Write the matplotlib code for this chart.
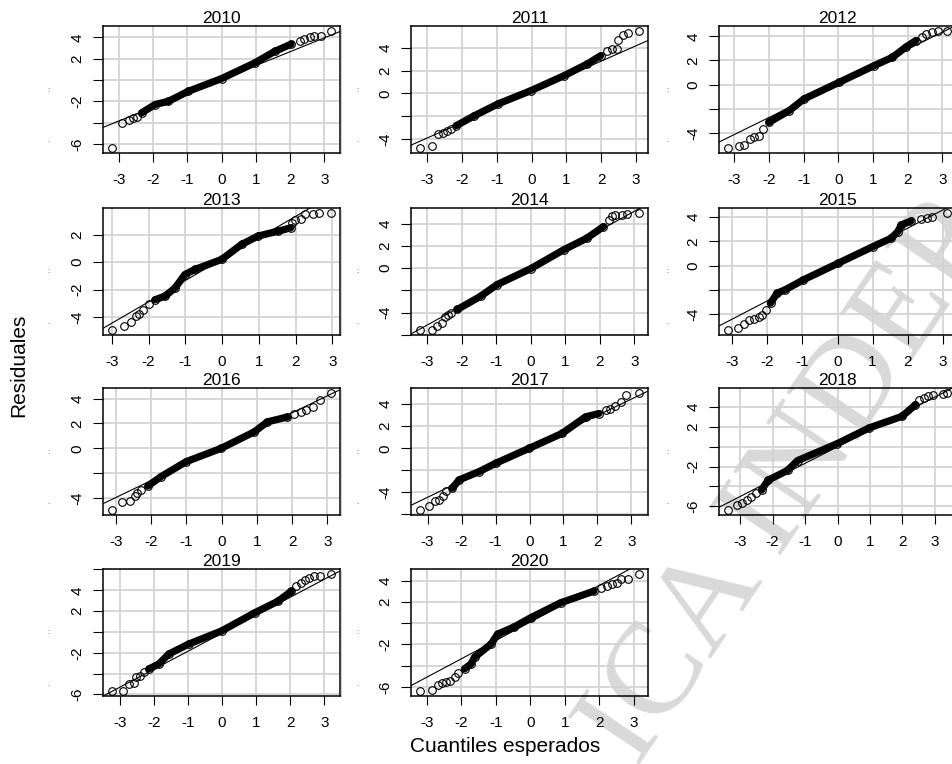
import matplotlib
matplotlib.use('Agg')
import matplotlib.pyplot as plt
from matplotlib.lines import Line2D
import numpy as np

plt.rcParams['font.family'] = ['Liberation Sans', 'DejaVu Sans']

anios = ['2010', '2011', '2012', '2013', '2014', '2015',
         '2016', '2017', '2018', '2019', '2020']

# cuantiles teoricos (q) y residuales ordenados (r)
q2010 = [-3.20, -2.89, -2.71, -2.57, -2.47, -2.33, -1.94, -1.55, -0.97, 0.00, 0.97, 1.55, 2.03, 2.28, 2.42, 2.57, 2.71, 2.89, 3.20]
r2010 = [-6.40, -4.02, -3.77, -3.60, -3.46, -3.08, -2.30, -2.00, -1.06, 0.13, 1.60, 2.68, 3.36, 3.68, 3.87, 3.99, 4.08, 4.15, 4.62]

q2011 = [-3.21, -2.86, -2.69, -2.54, -2.42, -2.31, -2.16, -1.64, -0.97, -0.02, 0.93, 1.60, 1.98, 2.17, 2.31, 2.44, 2.49, 2.63, 2.76, 3.09]
r2011 = [-4.82, -4.59, -3.56, -3.50, -3.27, -3.12, -2.83, -1.96, -0.93, 0.24, 1.55, 2.58, 3.30, 3.74, 3.86, 3.90, 4.68, 5.12, 5.30, 5.50]

q2012 = [-3.19, -2.88, -2.71, -2.56, -2.43, -2.29, -2.17, -2.00, -1.42, -0.99, 0.02, 1.03, 1.56, 1.94, 2.23, 2.42, 2.52, 2.71, 2.86, 3.14]
r2012 = [-5.26, -5.10, -4.98, -4.49, -4.30, -4.21, -3.66, -3.11, -2.15, -1.18, 0.19, 1.57, 2.26, 3.09, 3.64, 3.97, 4.19, 4.38, 4.40, 4.46]

q2013 = [-3.00, -2.66, -2.48, -2.35, -2.26, -2.14, -2.00, -1.82, -1.55, -1.28, -1.01, -0.74, -0.01, 0.53, 0.98, 1.53, 1.87, 1.91, 1.98, 2.16, 2.27, 2.48, 2.64, 2.97]
r2013 = [-4.96, -4.67, -4.38, -3.94, -3.77, -3.45, -3.04, -2.73, -2.48, -1.88, -0.90, -0.53, 0.20, 1.29, 1.90, 2.26, 2.50, 2.87, 3.04, 3.12, 3.48, 3.48, 3.60, 3.60]

q2014 = [-3.22, -2.88, -2.71, -2.59, -2.50, -2.40, -2.31, -2.13, -1.46, -0.98, -0.01, 0.95, 1.62, 2.10, 2.25, 2.35, 2.44, 2.64, 2.80, 3.14]
r2014 = [-5.58, -5.55, -5.20, -4.91, -4.40, -4.25, -4.02, -3.71, -2.53, -1.48, -0.06, 1.64, 2.68, 3.72, 4.32, 4.68, 4.77, 4.77, 4.86, 4.97]

q2015 = [-3.13, -2.83, -2.67, -2.53, -2.39, -2.24, -2.15, -2.05, -1.91, -1.72, -1.49, -0.97, 0.02, 1.01, 1.53, 1.72, 1.82, 2.10, 2.38, 2.55, 2.71, 3.13]
r2015 = [-5.35, -5.16, -4.83, -4.53, -4.42, -4.28, -4.06, -3.65, -3.10, -2.28, -2.00, -1.18, 0.19, 1.56, 2.25, 2.80, 3.35, 3.68, 3.84, 3.95, 4.03, 4.36]

q2016 = [-3.11, -2.81, -2.60, -2.46, -2.39, -2.27, -2.08, -1.71, -1.00, -0.01, 0.93, 1.30, 1.87, 2.06, 2.25, 2.39, 2.58, 2.79, 3.11]
r2016 = [-4.99, -4.32, -4.22, -3.87, -3.60, -3.39, -3.02, -2.27, -1.07, 0.00, 1.33, 2.13, 2.53, 2.80, 2.93, 3.06, 3.33, 3.86, 4.48]

q2017 = [-3.23, -2.95, -2.77, -2.66, -2.54, -2.46, -2.27, -2.07, -1.48, -0.99, -0.01, 0.96, 1.65, 2.04, 2.24, 2.38, 2.53, 2.68, 2.84, 3.23]
r2017 = [-5.62, -5.20, -4.81, -4.66, -4.36, -3.91, -3.60, -2.86, -2.11, -1.35, 0.00, 1.35, 2.85, 3.15, 3.51, 3.53, 3.81, 4.20, 4.80, 5.04]

q2018 = [-3.38, -3.10, -2.93, -2.80, -2.65, -2.50, -2.34, -2.14, -1.54, -1.23, -0.02, 0.98, 1.99, 2.40, 2.50, 2.65, 2.80, 2.95, 3.25, 3.38]
r2018 = [-6.40, -5.84, -5.68, -5.35, -5.02, -4.69, -4.36, -3.37, -2.38, -1.39, 0.30, 1.91, 3.07, 4.23, 4.72, 4.95, 5.12, 5.22, 5.31, 5.45]

q2019 = [-3.23, -2.89, -2.73, -2.58, -2.51, -2.39, -2.29, -2.14, -1.85, -1.56, -0.98, -0.01, 0.96, 1.64, 2.03, 2.18, 2.30, 2.44, 2.56, 2.71, 2.88, 3.20]
r2019 = [-5.70, -5.66, -4.98, -4.89, -4.35, -4.19, -3.88, -3.55, -3.08, -2.12, -1.17, 0.10, 1.84, 2.95, 3.90, 4.38, 4.70, 5.02, 5.17, 5.33, 5.33, 5.59]

q2020 = [-3.21, -2.86, -2.68, -2.57, -2.44, -2.32, -2.20, -2.10, -1.91, -1.72, -1.62, -1.14, -0.95, -0.47, 0.01, 0.88, 1.84, 2.04, 2.23, 2.38, 2.52, 2.64, 2.83, 3.16]
r2020 = [-6.42, -6.26, -5.86, -5.64, -5.55, -5.46, -5.08, -4.71, -4.30, -3.83, -3.21, -1.96, -1.03, -0.35, 0.52, 1.93, 3.02, 3.33, 3.49, 3.70, 3.80, 4.17, 4.17, 4.67]

cuantiles = [q2010, q2011, q2012, q2013, q2014, q2015, q2016, q2017, q2018, q2019, q2020]
residuales = [r2010, r2011, r2012, r2013, r2014, r2015, r2016, r2017, r2018, r2019, r2020]

# tramo donde los puntos se amontonan (banda negra)
banda = [(-2.33, 2.03), (-2.16, 1.98), (-2.00, 2.23), (-1.82, 1.87), (-2.13, 2.10), (-1.91, 2.10),
         (-2.08, 1.87), (-2.27, 2.04), (-2.34, 2.40), (-2.14, 2.03), (-1.91, 1.84)]

# qqline: intercepto, pendiente
rectas = [(0.05, 1.30), (0.13, 1.35), (0.11, 1.41), (0.22, 1.555), (0.00, 1.70), (0.08, 1.50),
          (0.13, 1.366), (0.01, 1.484), (0.00, 1.67), (-0.13, 1.73), (0.11, 1.73)]

# etiquetas del eje y que R llega a dibujar
rotulos_y = [[4, 2, -2, -6], [4, 2, 0, -4], [4, 2, 0, -4], [2, 0, -2, -4], [4, 2, 0, -4], [4, 2, 0, -4],
             [4, 2, 0, -4], [4, 2, 0, -4], [4, 2, -2, -6], [4, 2, -2, -6], [4, 2, -2, -6]]

W, H = 952, 764
fig = plt.figure(figsize=(W / 100, H / 100), dpi=100)

# marca de agua
fig.text(0.83, 0.365, 'ICA INDEP', rotation=56, fontsize=95, family='Liberation Serif',
         color='#d9d9d9', ha='center', va='center', zorder=-10)

col_x = [103, 411, 719]
fila_y = [26, 208, 388, 569]
aw, ah = 237, 127

for i, anio in enumerate(anios):
    fila, col = divmod(i, 3)
    ax = fig.add_axes([col_x[col] / W, 1 - (fila_y[fila] + ah) / H, aw / W, ah / H])
    ax.patch.set_alpha(0)
    q = np.array(cuantiles[i])
    r = np.array(residuales[i])
    lo, hi = banda[i]
    m = (q >= lo) & (q <= hi)
    ax.plot(q[m], r[m], '-', color='k', lw=5.2, solid_capstyle='round', solid_joinstyle='round', zorder=3)
    ax.plot(q, r, 'o', mfc='none', mec='k', ms=5.5, mew=0.8, zorder=4)
    ax.margins(0.04)
    a, b = rectas[i]
    ax.axline((0, a), slope=b, color='k', lw=0.8, zorder=2)

    ax.set_xticks(range(-3, 4))
    ax.set_xticklabels([str(v) for v in range(-3, 4)])
    ylo, yhi = ax.get_ylim()
    yt = [v for v in range(-8, 9, 2) if ylo <= v <= yhi]
    ax.set_yticks(yt)
    ax.set_yticklabels([str(v) if v in rotulos_y[i] else '' for v in yt], rotation=90, va='center')
    ax.set_ylim(ylo, yhi)

    ax.grid(color='#d3d3d3', lw=1.3)
    ax.set_axisbelow(True)
    ax.tick_params(axis='x', direction='out', length=6.5, width=0.8, labelsize=11, pad=8)
    ax.tick_params(axis='y', direction='out', length=7.5, width=0.8, labelsize=11, pad=6)
    for s in ax.spines.values():
        s.set_linewidth(1.1)
    ax.set_title(anio, fontsize=12.5, pad=0.3)

    # restos de texto a la izquierda de cada panel
    xm = [48, 357, 667][col]
    fig.text(xm / W, 1 - (fila_y[fila] + 64) / H, ':', fontsize=6, color='#444444', ha='center', va='center')
    fig.text(xm / W, 1 - (fila_y[fila] + 115) / H, '.', fontsize=6, color='#444444', ha='center', va='center')

# linea gris fina junto a la segunda columna
for fy in fila_y:
    fig.add_artist(Line2D([341 / W, 341 / W], [1 - (fy + 2) / H, 1 - (fy + ah) / H],
                          color='#cfcfcf', lw=0.8))

fig.text(19 / W, 1 - 365 / H, 'Residuales', rotation=90, fontsize=15, ha='center', va='center')
fig.text(505 / W, 1 - 747 / H, 'Cuantiles esperados', fontsize=15, ha='center', va='center')

fig.savefig('out.png', dpi=100)
